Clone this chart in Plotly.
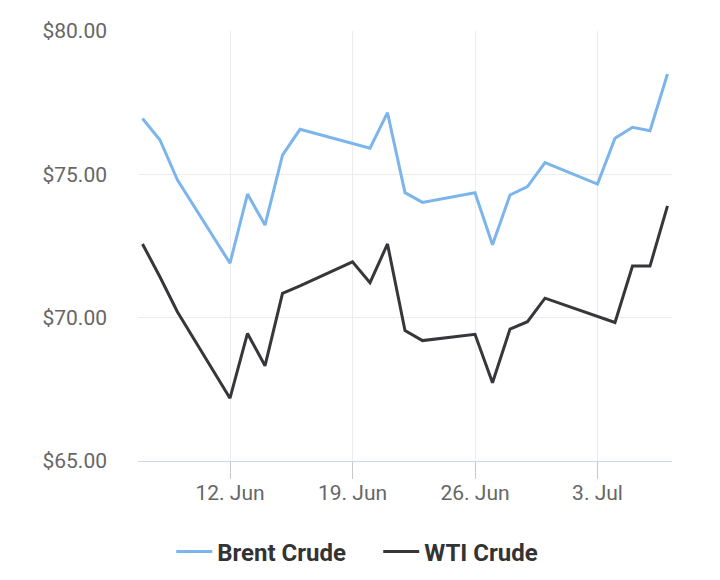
import plotly.graph_objects as go

# daily closes (None = no point drawn that day)
dates = [
    "2023-06-07", "2023-06-08", "2023-06-09", "2023-06-12", "2023-06-13",
    "2023-06-14", "2023-06-15", "2023-06-16", "2023-06-19", "2023-06-20",
    "2023-06-21", "2023-06-22", "2023-06-23", "2023-06-26", "2023-06-27",
    "2023-06-28", "2023-06-29", "2023-06-30", "2023-07-03", "2023-07-04",
    "2023-07-05", "2023-07-06", "2023-07-07",
]
brent = [
    76.95, 76.20, 74.80, 71.90, 74.31,
    73.23, 75.67, 76.57, None, 75.91,
    77.15, 74.36, 74.02, 74.36, 72.54,
    74.28, 74.57, 75.41, 74.66, 76.26,
    76.64, 76.52, 78.50,
]
wti = [
    72.57, 71.42, 70.20, 67.19, 69.45,
    68.32, 70.85, 71.11, 71.95, 71.22,
    72.57, 69.55, 69.20, 69.42, 67.73,
    69.60, 69.86, 70.68, None, 69.83,
    71.80, 71.80, 73.90,
]

tick_dates = ["2023-06-12", "2023-06-19", "2023-06-26", "2023-07-03"]
tick_labels = ["12. Jun", "19. Jun", "26. Jun", "3. Jul"]
y_ticks = [65, 70, 75, 80]

fig = go.Figure()
fig.add_trace(go.Scatter(
    x=dates, y=brent, mode='lines', name='Brent Crude', connectgaps=True,
    line=dict(color='#7cb5ec', width=3)
))
fig.add_trace(go.Scatter(
    x=dates, y=wti, mode='lines', name='WTI Crude', connectgaps=True,
    line=dict(color='#36363b', width=3)
))

# page body has an 8px margin, so the figure is a bit smaller than the window
fig.update_layout(
    width=712, height=572,
    margin=dict(l=130, r=48, t=23, b=119),
    paper_bgcolor='white', plot_bgcolor='white',
    font=dict(family='Roboto', size=21, color='#666666'),
    showlegend=True,
    legend=dict(
        orientation='h', xref='container', yref='container',
        x=0.52, xanchor='center', y=0.049, yanchor='middle',
        font=dict(family='Roboto', size=24, color='#333333', weight='bold'),
        itemwidth=36, entrywidth=156, entrywidthmode='pixels',
        tracegroupgap=0,
    ),
)
fig.update_xaxes(
    range=["2023-06-06 17:50", "2023-07-07 06:10"],
    tickvals=tick_dates, ticktext=tick_labels,
    showgrid=True, gridcolor='#ececec', gridwidth=1,
    showline=True, linecolor='#ccd6eb', linewidth=1,
    ticks='outside', ticklen=17, tickcolor='#c8c8c8', tickwidth=1,
    ticklabelstandoff=-4,
    zeroline=False, fixedrange=True,
)
fig.update_yaxes(
    range=[65, 80], tickvals=y_ticks, tickformat='$.2f',
    showgrid=True, gridcolor='#ececec', gridwidth=1,
    showline=False, zeroline=False, ticks='', ticklabelstandoff=30,
    fixedrange=True,
)

fig.write_html("out.html")
